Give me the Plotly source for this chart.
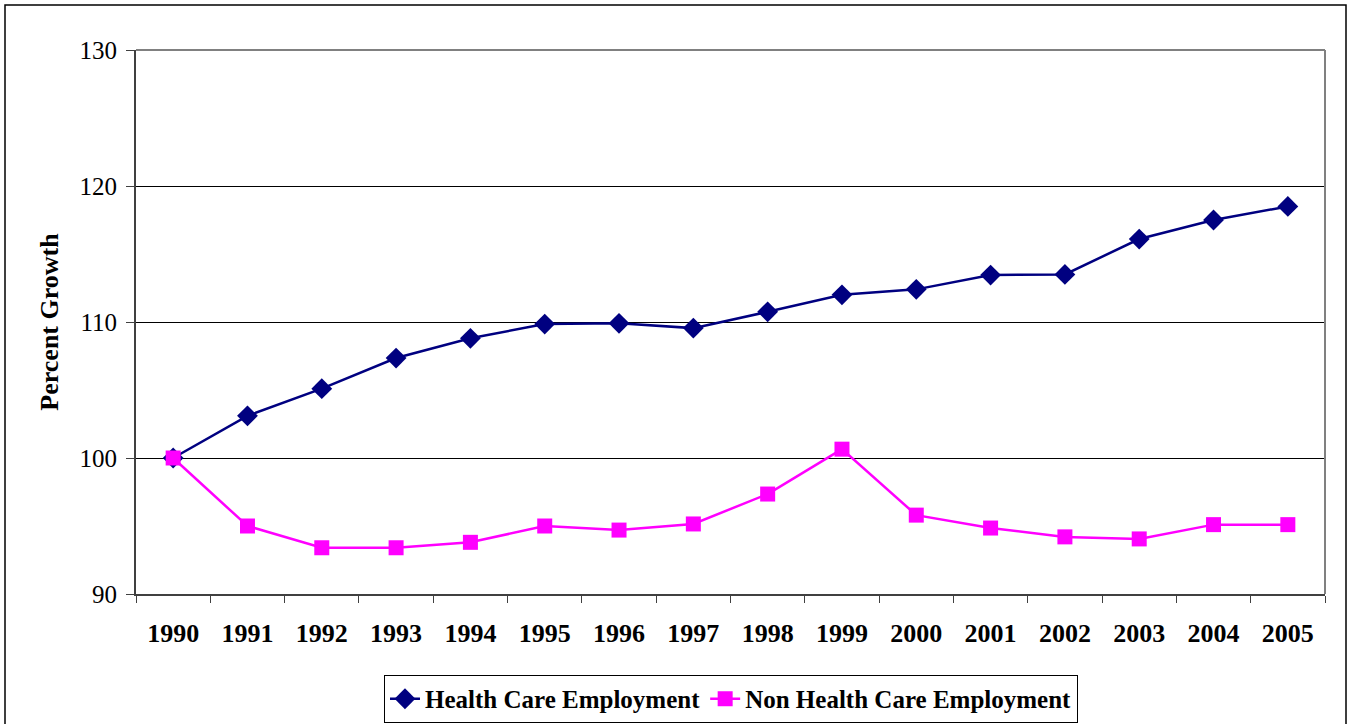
import plotly.graph_objects as go

years = [str(y) for y in range(1990, 2006)]
health_care = [100, 103.1, 105.1, 107.35, 108.8, 109.85, 109.9, 109.55, 110.75,
               112.0, 112.4, 113.45, 113.5, 116.1, 117.5, 118.5]
non_health_care = [100, 95.0, 93.4, 93.4, 93.8, 95.0, 94.7, 95.15, 97.35,
                   100.65, 95.8, 94.85, 94.2, 94.05, 95.1, 95.1]

SERIF = "Liberation Serif, Times New Roman, serif"

fig = go.Figure()
fig.add_trace(go.Scatter(
    x=years, y=health_care, name="Health Care Employment", mode="lines+markers",
    line=dict(color="#000080", width=2.5),
    marker=dict(symbol="diamond", size=16, color="#000080")))
fig.add_trace(go.Scatter(
    x=years, y=non_health_care, name="Non Health Care Employment", mode="lines+markers",
    line=dict(color="#FF00FF", width=2.5),
    marker=dict(symbol="square", size=15, color="#FF00FF")))

fig.update_layout(
    width=1348, height=724,
    margin=dict(l=136, r=23, t=50, b=130, autoexpand=False),
    paper_bgcolor="white", plot_bgcolor="white",
    font=dict(family=SERIF, color="black"),
    showlegend=True,
    legend=dict(orientation="h", x=0.5004, xanchor="center", y=-0.193, yanchor="middle",
                bordercolor="black", borderwidth=1,
                font=dict(size=25, family=SERIF, weight="bold"),
                tracegroupgap=0),
    xaxis=dict(type="category", range=[-0.5, len(years) - 0.5],
               tickson="boundaries", ticks="outside", ticklen=7,
               tickcolor="#404040", showline=True, linecolor="#404040", linewidth=2,
               showgrid=False, ticklabelstandoff=15, automargin=False,
               tickfont=dict(size=26, family=SERIF, weight="bold")),
    yaxis=dict(range=[90, 130], dtick=10, ticks="outside", ticklen=8,
               tickcolor="#404040", showline=True, linecolor="#404040", linewidth=2,
               showgrid=True, gridcolor="black", gridwidth=1, zeroline=False,
               ticklabelstandoff=4, automargin=False,
               tickfont=dict(size=25, family=SERIF),
               title=dict(text="Percent Growth", standoff=13,
                          font=dict(size=26, family=SERIF, weight="bold"))),
)

# gray plot-area frame (top and right)
fig.add_shape(type="line", xref="paper", yref="paper", x0=0, x1=1, y0=1, y1=1,
              line=dict(color="#808080", width=2), layer="above")
fig.add_shape(type="line", xref="paper", yref="paper", x0=1, x1=1, y0=0, y1=1,
              line=dict(color="#808080", width=2), layer="above")
# outer chart border
fig.add_shape(type="rect", xref="paper", yref="paper",
              x0=-131/1189, x1=1+21/1189, y0=-(724-594+6)/544, y1=1+45/544,
              line=dict(color="black", width=1.5), layer="below")

fig.write_html("out.html", config={"displayModeBar": False},
               post_script="document.body.style.margin='0';")
